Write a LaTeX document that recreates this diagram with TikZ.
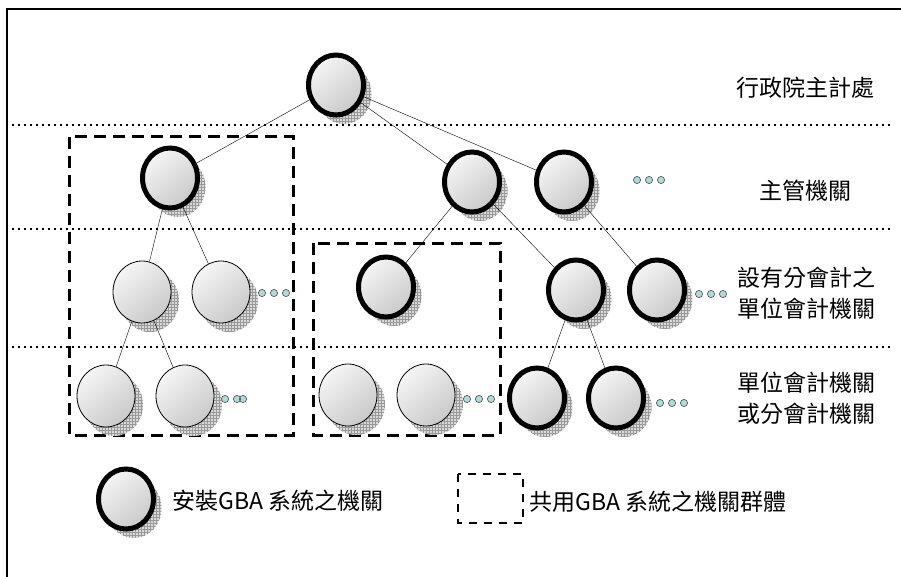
\documentclass[tikz,border=0pt]{standalone}
\usepackage{fontspec}
\newfontfamily\cjk{Noto Sans CJK TC}
\usetikzlibrary{shapes.geometric,shadows,patterns}
\definecolor{dotcyan}{RGB}{175,218,218}
\tikzset{
  org/.style={ellipse, draw, line width=5pt, minimum width=55pt, minimum height=60pt, inner sep=0pt,
    top color=gray!8, bottom color=gray!42, shading angle=40,
    general shadow={fill=gray!30, shadow xshift=8pt, shadow yshift=-9pt},
    general shadow={pattern=grid, pattern color=gray!80, shadow xshift=8pt, shadow yshift=-9pt}},
  plain/.style={org, line width=0.8pt, minimum width=58pt, minimum height=62pt},
  lab/.style={font=\cjk\fontsize{23}{31}\selectfont, align=center, inner sep=0pt},
  level/.style={line width=2pt, dash pattern=on 2pt off 4pt},
  group/.style={line width=3pt, dash pattern=on 12pt off 7pt},
  more/.style={fill=dotcyan, draw=black!70, line width=0.6pt},
}
\begin{document}
\begin{tikzpicture}[x=1pt, y=-1pt]
\useasboundingbox (0,0) rectangle (901,577);
\draw[line width=2pt] (7,577) -- (7,9) -- (901,9);
\draw[level] (12,125) -- (890,125);
\draw[level] (12,229) -- (890,229);
\draw[level] (12,347) -- (890,347);
\draw[group] (69,137) rectangle (293,435);
\draw[group] (313,243) rectangle (500,435);
\node[org] at (336,85) (dgbas) {};
\node[org] at (170,178) (compA) {};
\node[org] at (472,182) (compB) {};
\node[org] at (564,182) (compC) {};
\node[plain] at (142,292) (unitA) {};
\node[plain] at (221,292) (unitAx) {};
\node[org] at (386,287) (unitB) {};
\node[org] at (576,290) (unitC) {};
\node[org] at (657,290) (unitD) {};
\node[plain] at (106,396) (subA) {};
\node[plain] at (185,396) (subAx) {};
\node[plain] at (348,395) (subB) {};
\node[plain] at (426,395) (subBx) {};
\node[org] at (537,398) (subC) {};
\node[org] at (616,398) (subCx) {};
\draw (dgbas) -- (compA);
\draw (dgbas) -- (compB);
\draw (dgbas) -- (compC);
\draw (compA) -- (unitA);
\draw (compA) -- (unitAx);
\draw (unitA) -- (subA);
\draw (unitA) -- (subAx);
\draw (compB) -- (unitB);
\draw (compB) -- (unitC);
\draw (compC) -- (unitD);
\draw (unitC) -- (subC);
\draw (unitC) -- (subCx);
\draw[more] (637,180) circle (3.6) (649,180) circle (3.6) (661,180) circle (3.6);
\draw[more] (262,293) circle (3.6) (274,293) circle (3.6) (286,293) circle (3.6);
\draw[more] (699,294) circle (3.6) (711,294) circle (3.6) (723,294) circle (3.6);
\draw[more] (225,399) circle (3.6) (237,399) circle (3.6) (243,399) circle (3.6);
\draw[more] (467,399) circle (3.6) (479,399) circle (3.6) (491,399) circle (3.6);
\draw[more] (660,403) circle (3.6) (672,403) circle (3.6) (684,403) circle (3.6);
\node[lab] at (805,88) (toplab) {行政院主計處};
\node[lab] at (805,191) (complab) {主管機關};
\node[lab] at (806,293) (unitlab) {設有分會計之\\單位會計機關};
\node[lab] at (806,398) (sublab) {單位會計機關\\或分會計機關};
\node[org] at (126,499) (keyorg) {};
\node[lab, anchor=west] at (172,501) (keyorglab) {安裝GBA 系統之機關};
\draw[line width=2.4pt, dash pattern=on 8pt off 7pt] (458,474) rectangle (523,523);
\node[lab, anchor=west] at (529,502) (keygrouplab) {共用GBA 系統之機關群體};
\end{tikzpicture}
\end{document}
